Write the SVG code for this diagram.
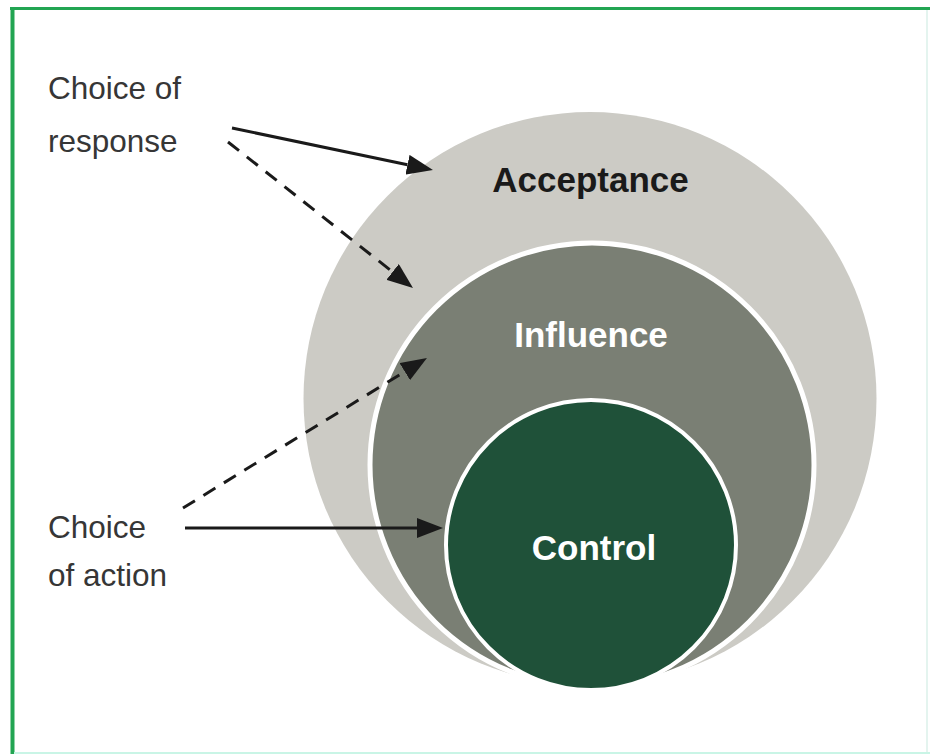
<svg xmlns="http://www.w3.org/2000/svg" width="930" height="754" viewBox="0 0 930 754">
  <style>
    .lbl { font-family: "Liberation Sans", Arial, sans-serif; font-size: 31.5px; fill: #363636; }
    .ttl { font-family: "Liberation Sans", Arial, sans-serif; font-size: 35px; font-weight: bold; text-anchor: middle; }
    .solid { stroke: #1a1a1a; stroke-width: 3; fill: none; }
    .dash { stroke: #1a1a1a; stroke-width: 3; fill: none; stroke-dasharray: 14 10; }
  </style>
  <defs>
    <marker id="arrow" viewBox="0 0 26 20" markerWidth="26" markerHeight="20" refX="0" refY="10" orient="auto" markerUnits="userSpaceOnUse">
      <path d="M0,0 L26,10 L0,20 z" fill="#1a1a1a"/>
    </marker>
  </defs>

  <rect x="0" y="0" width="930" height="754" fill="#ffffff"/>
  <g id="frame">
    <line x1="10" y1="8.5" x2="930" y2="8.5" stroke="#22a552" stroke-width="3"/>
    <line x1="12.5" y1="7" x2="12.5" y2="754" stroke="#22a552" stroke-width="4"/>
    <line x1="927" y1="10" x2="927" y2="754" stroke="#e4f4ef" stroke-width="2"/>
    <line x1="14" y1="753" x2="930" y2="753" stroke="#c9f5e6" stroke-width="2"/>
  </g>

  <g id="acceptance">
    <circle cx="590" cy="398.5" r="286.5" fill="#cccbc5"/>
    <text class="ttl" x="590.5" y="192" fill="#1a1a1a">Acceptance</text>
  </g>
  <g id="influence">
    <circle cx="592" cy="465" r="222" fill="#7a7f74" stroke="#ffffff" stroke-width="5"/>
    <text class="ttl" x="591" y="347" fill="#ffffff">Influence</text>
  </g>
  <g id="control">
    <circle cx="591" cy="545" r="145" fill="#1f5139" stroke="#ffffff" stroke-width="4"/>
    <text class="ttl" x="594" y="560" fill="#ffffff">Control</text>
  </g>

  <g id="choice-of-response">
    <text class="lbl" x="48" y="99">Choice of</text>
    <text class="lbl" x="48" y="152">response</text>
  </g>
  <g id="choice-of-action">
    <text class="lbl" x="48" y="538">Choice</text>
    <text class="lbl" x="48" y="586">of action</text>
  </g>

  <g id="connectors">
    <line class="solid" x1="232" y1="128" x2="407.5" y2="164.7" marker-end="url(#arrow)"/>
    <line class="dash" x1="228" y1="142" x2="392.6" y2="271.9" marker-end="url(#arrow)"/>
    <line class="dash" x1="183" y1="508" x2="404.8" y2="371.6" marker-end="url(#arrow)"/>
    <line class="solid" x1="185" y1="528" x2="417" y2="528" marker-end="url(#arrow)"/>
  </g>
</svg>
